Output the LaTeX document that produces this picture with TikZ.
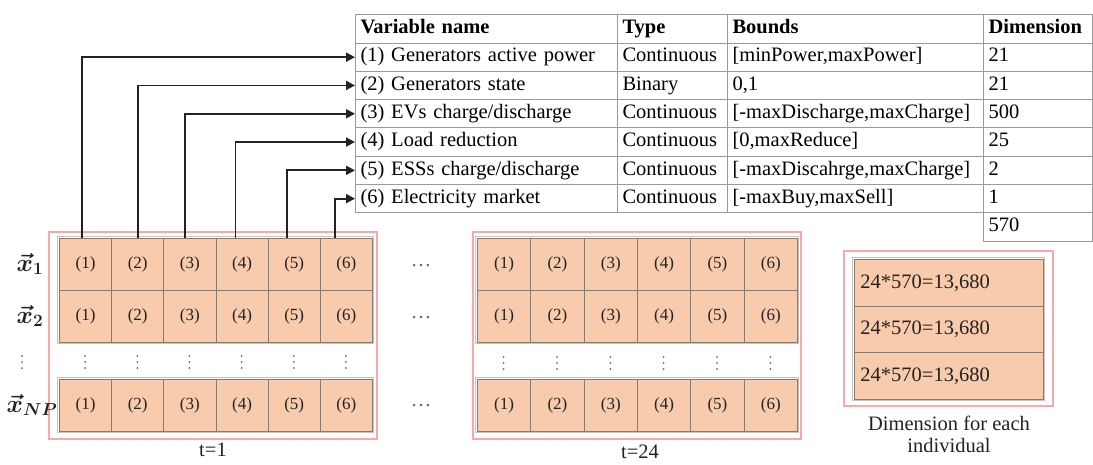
\documentclass[tikz,border=0pt]{standalone}
\usepackage{amsmath}
\usepackage{fontspec}
\setmainfont{Liberation Serif}
\usetikzlibrary{arrows.meta}
\definecolor{peach}{HTML}{F8CBAD}
\definecolor{cellline}{HTML}{8A7A6E}
\definecolor{framec}{HTML}{F7A8A8}
\definecolor{rim}{HTML}{C4C4C4}
\definecolor{tline}{HTML}{9A9A9A}
\definecolor{ink}{HTML}{222222}
\definecolor{dotc}{HTML}{666666}

\begin{document}
\begin{tikzpicture}[x=1pt,y=-1pt,
  tc/.style={draw=tline, line width=1pt, anchor=north west, inner xsep=5pt,
    inner ysep=0pt, align=left, text height=14pt, text depth=4.5pt,
    font=\fontsize{20.5}{24}\selectfont, text=black},
  th/.style={tc, font=\fontsize{20.5}{24}\selectfont\bfseries},
  gc/.style={draw=cellline, fill=peach, line width=0.9pt, anchor=north west,
    inner sep=0pt, font=\fontsize{17}{20}\selectfont, text=ink},
  framebox/.style={draw=framec, line width=1.3pt},
  rimbox/.style={draw=rim, line width=1.8pt},
  arr/.style={draw=ink, line width=1.8pt, -{Triangle[length=9pt,width=9pt]}},
  lbl/.style={font=\fontsize{20.5}{24}\selectfont, text=ink},
  hdots/.style={font=\fontsize{20.5}{24}\selectfont, text=dotc},
  vlab/.style={text=ink, font=\fontsize{25}{28}\selectfont},
]
\useasboundingbox (0,0) rectangle (1093,464);

% ---------- variable table ----------
\node[th, minimum height=28.5pt, text width=252pt] (h1) at (355,14) {Variable name};
\node[th, minimum height=28.5pt, text width=100pt] (h2) at (617,14) {Type};
\node[th, minimum height=28.5pt, text width=246pt] (h3) at (727,14) {Bounds};
\node[th, minimum height=28.5pt, text width=99pt]  (h4) at (983,14) {Dimension};

\foreach \i/\na/\vt/\bo/\di in {
  1/{(1) Generators active power}/Continuous/{[minPower,maxPower]}/21,
  2/{(2) Generators state}/Binary/{0,1}/21,
  3/{(3) EVs charge/discharge}/Continuous/{[-maxDischarge,maxCharge]}/500,
  4/{(4) Load reduction}/Continuous/{[0,maxReduce]}/25,
  5/{(5) ESSs charge/discharge}/Continuous/{[-maxDiscahrge,maxCharge]}/2,
  6/{(6) Electricity market}/Continuous/{[-maxBuy,maxSell]}/1}{
  \pgfmathsetmacro\yy{42.5+28.3*(\i-1)}
  \node[tc, minimum height=28.3pt, text width=252pt] (v\i) at (355,\yy) {\na};
  \node[tc, minimum height=28.3pt, text width=100pt] (t\i) at (617,\yy) {\vt};
  \node[tc, minimum height=28.3pt, text width=246pt] (b\i) at (727,\yy) {\bo};
  \node[tc, minimum height=28.3pt, text width=99pt]  (d\i) at (983,\yy) {\di};
}
\node[tc, minimum height=28.3pt, text width=99pt] (dsum) at (983,212.3) {570};

% ---------- frames around the population blocks ----------
\draw[framebox] (49,232) rectangle (377,439);
\draw[framebox] (473,232) rectangle (801,439);
\draw[framebox] (844,251) rectangle (1053,406);

\draw[rimbox] (57.5,236.5) rectangle (373.5,343.5);
\draw[rimbox] (57.5,377.5) rectangle (373.5,432.5);
\draw[rimbox] (475.5,236.5) rectangle (798.5,343.5);
\draw[rimbox] (475.5,377.5) rectangle (798.5,432.5);
\draw[rimbox] (852.5,257.5) rectangle (1044.5,400.5);

% ---------- decision vectors, t=1 and t=24 ----------
\foreach \r/\top in {1/238,2/290,3/379}{
  \foreach \c in {1,...,6}{
    \node[gc, minimum width=52.17pt, minimum height=52pt] (a\r\c)
      at ({59+52.17*(\c-1)},\top) {(\c)};
    \node[gc, minimum width=53.33pt, minimum height=52pt] (z\r\c)
      at ({477+53.33*(\c-1)},\top) {(\c)};
  }
}

% vertical dots between the second and last individual
\foreach \c in {1,...,6}{
  \foreach \k in {-6,0,6}{
    \fill[dotc] ({85.1+52.17*(\c-1)},{362+\k}) circle (1pt);
    \fill[dotc] ({503.7+53.33*(\c-1)},{363+\k}) circle (1pt);
  }
}
\foreach \k in {-6,0,6}{\fill[dotc] (22,{362+\k}) circle (1pt);}

% horizontal dots between the time steps
\node[hdots] (e1) at (421,266) {…};
\node[hdots] (e2) at (421,318) {…};
\node[hdots] (e3) at (421,406) {…};

% individual labels
\node[vlab] (x1) at (30,264) {$\boldsymbol{\vec{x}}_{\boldsymbol{1}}$};
\node[vlab] (x2) at (30,316) {$\boldsymbol{\vec{x}}_{\boldsymbol{2}}$};
\node[vlab] (xn) at (32,405) {$\boldsymbol{\vec{x}}_{\boldsymbol{NP}}$};

\node[lbl] (t1) at (213,450) {t=1};
\node[lbl] (t24) at (640,452) {t=24};

% ---------- links from the vector entries to the table ----------
\foreach \c/\dx in {1/23,2/27,3/22,4/20,5/19,6/15}{
  \draw[arr] ([xshift=\dx pt]a1\c.north west) |- (v\c.west);
}

% ---------- dimension per individual ----------
\foreach \r/\top in {1/259,2/305.7,3/352.4}{
  \node[gc, minimum height=46.7pt, text width=177pt, inner xsep=6pt, align=left,
    font=\fontsize{20.5}{24}\selectfont] (s\r) at (854,\top) {24*570=13,680};
}
\node[lbl, align=center, font=\fontsize{20.5}{22}\selectfont] (cap) at (949,434)
  {Dimension for each\\individual};
\end{tikzpicture}
\end{document}
